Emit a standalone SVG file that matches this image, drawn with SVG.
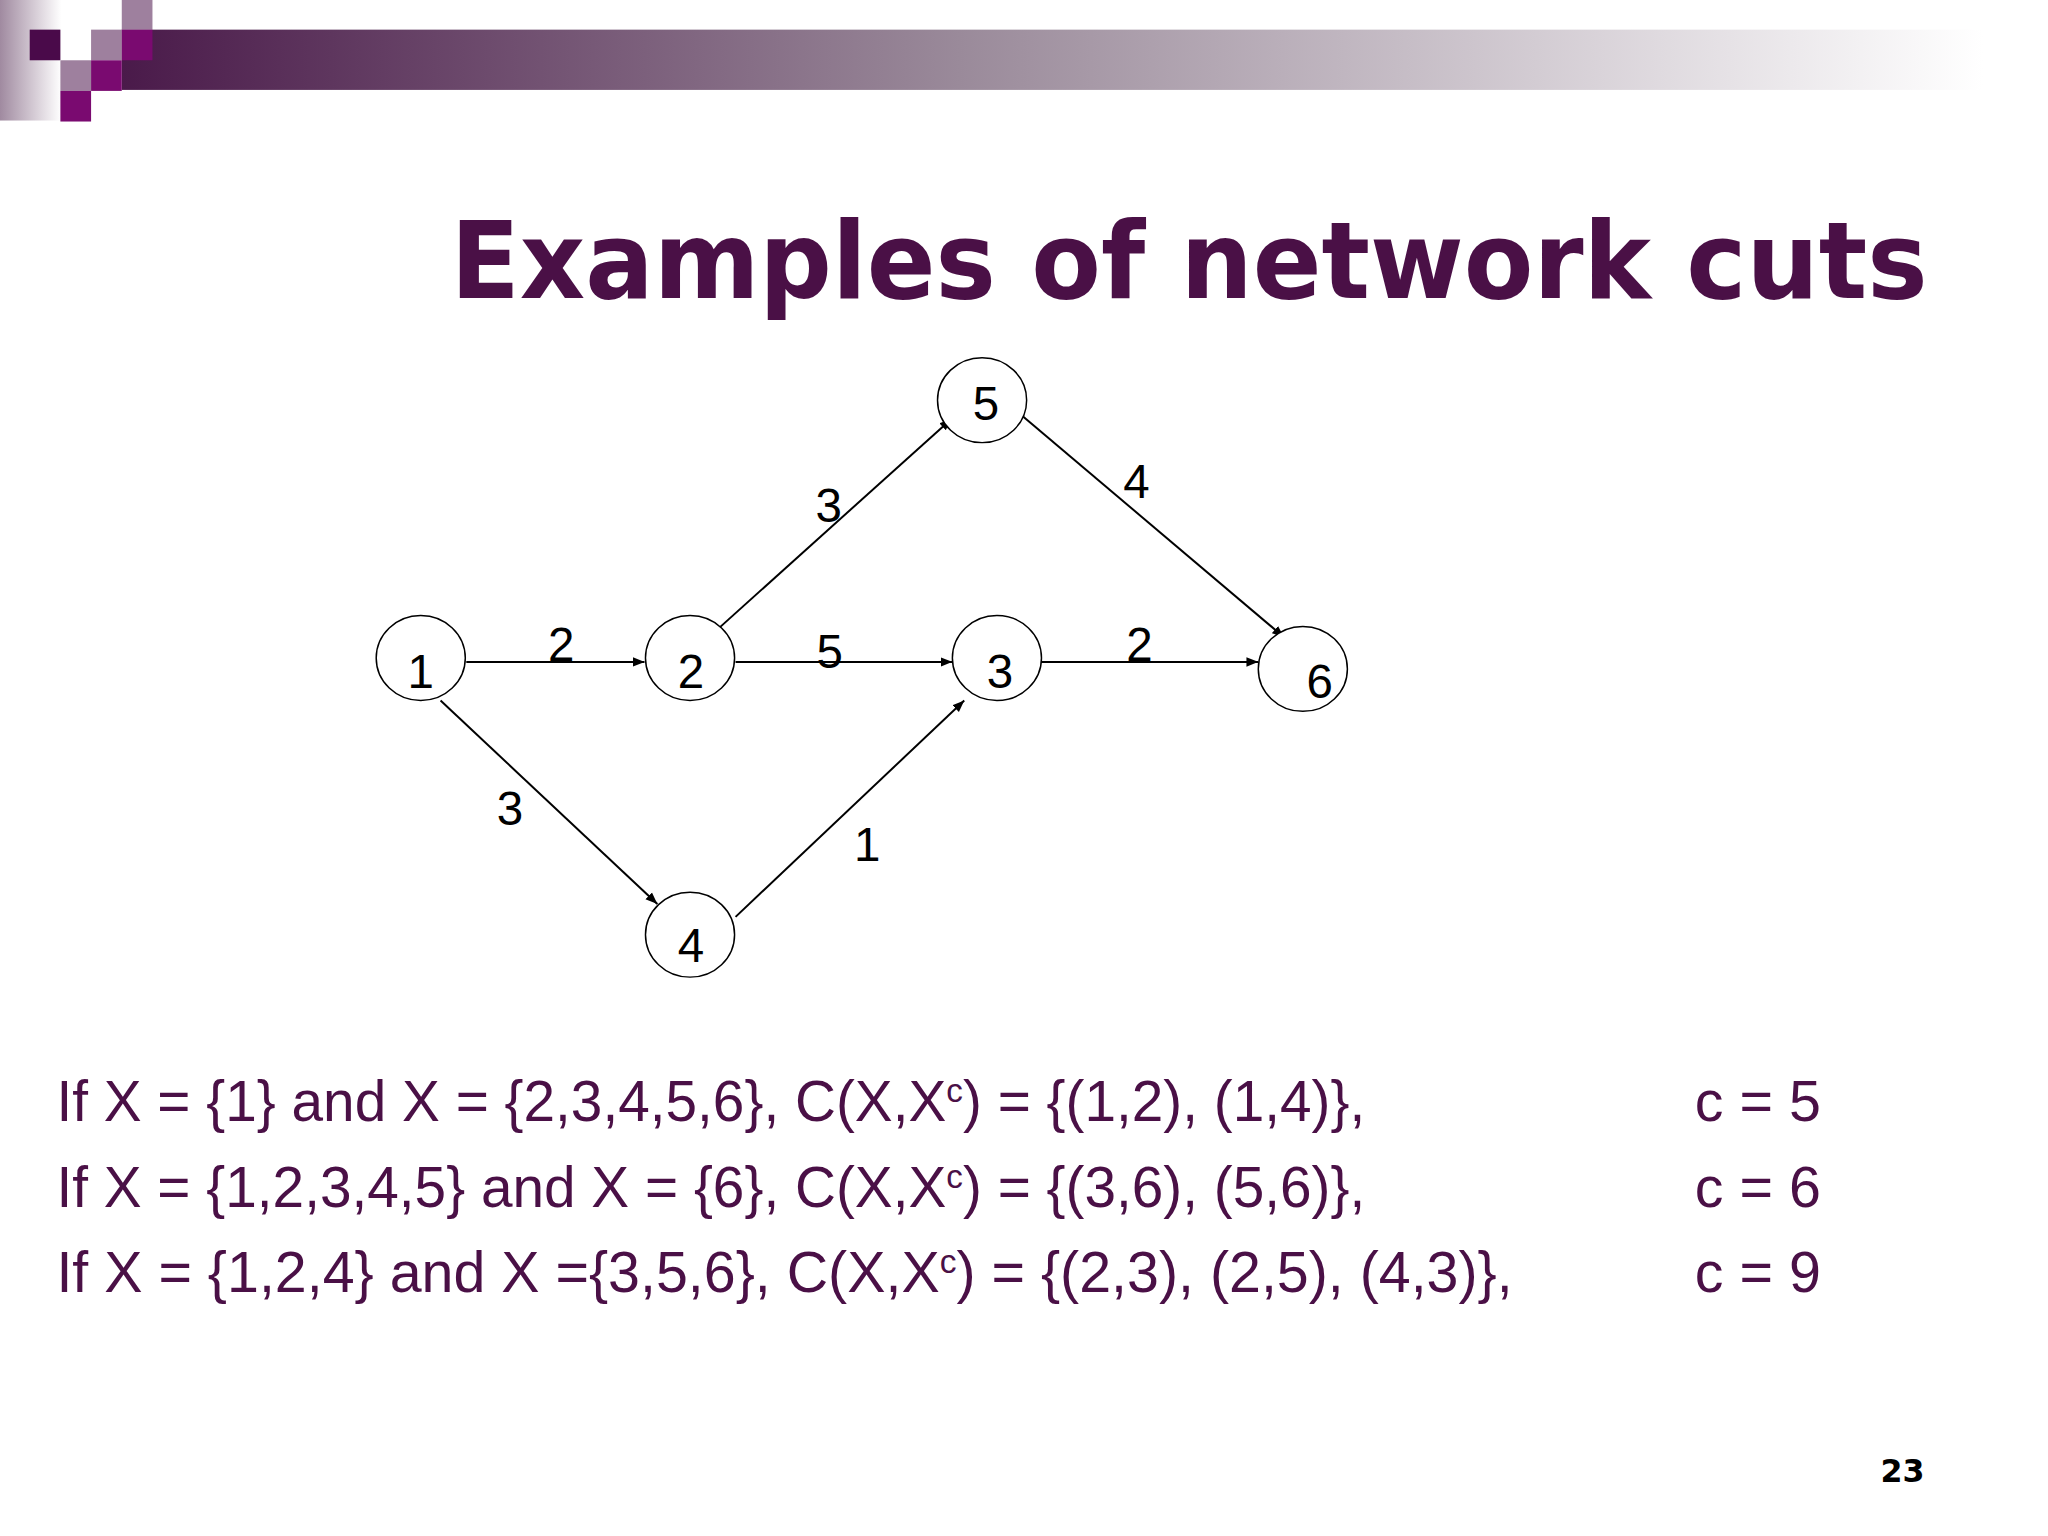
<svg xmlns="http://www.w3.org/2000/svg" width="2048" height="1536" viewBox="0 0 2048 1536">
<defs>
<linearGradient id="bar" x1="0" x2="1" y1="0" y2="0"><stop offset="0" stop-color="#4a1a4a"/><stop offset="0.45" stop-color="#9a8a9a"/><stop offset="1" stop-color="#ffffff"/></linearGradient>
<linearGradient id="strip" x1="0" x2="1" y1="0" y2="0"><stop offset="0" stop-color="#a08aa0"/><stop offset="1" stop-color="#ffffff"/></linearGradient>
<marker id="arr" viewBox="0 0 10 10" refX="10" refY="5" markerWidth="12" markerHeight="12" markerUnits="userSpaceOnUse" orient="auto"><path d="M0,1 L10,5 L0,9 z" fill="#000"/></marker>
</defs>
<style>
.n{fill:#fff;stroke:#000;stroke-width:1.5}
.t{font-family:"Liberation Sans",Arial,sans-serif;font-size:48px;fill:#000;text-anchor:middle}
.e{stroke:#000;stroke-width:2;fill:none;marker-end:url(#arr)}
.l{font-family:"Liberation Sans",Arial,sans-serif;font-size:58px;fill:#4a1046}
</style>
<rect width="2048" height="1536" fill="#fff"/>
<g transform="scale(0.99,0.988)">
<rect x="0" y="0" width="62" height="122" fill="url(#strip)"/>
<rect x="123" y="30" width="1880" height="61" fill="url(#bar)"/>
<rect x="30" y="30" width="31" height="31" fill="#4a0a4a"/>
<rect x="123" y="0" width="31" height="30" fill="#9e809e"/>
<rect x="92" y="30" width="31" height="31" fill="#9e809e"/>
<rect x="123" y="30" width="31" height="31" fill="#7a0a70"/>
<rect x="61" y="61" width="31" height="31" fill="#9e809e"/>
<rect x="92" y="61" width="31" height="31" fill="#7a0a70"/>
<rect x="61" y="92" width="31" height="31" fill="#7a0a70"/>
<text x="455" y="302" font-family="'DejaVu Sans',Verdana,sans-serif" font-weight="bold" font-size="108" fill="#4a1046" textLength="1492" lengthAdjust="spacingAndGlyphs">Examples of network cuts</text>
<g id="edges">
<line class="e" x1="471" y1="670" x2="651" y2="670"/>
<line class="e" x1="743" y1="670" x2="962" y2="670"/>
<line class="e" x1="1052" y1="670" x2="1271" y2="670"/>
<line class="e" x1="727" y1="635" x2="961" y2="424"/>
<line class="e" x1="1028" y1="417" x2="1297" y2="645"/>
<line class="e" x1="445" y1="709" x2="664" y2="915"/>
<line class="e" x1="743" y1="928" x2="974" y2="709"/>
<text class="t" x="567" y="669">2</text>
<text class="t" x="838" y="676">5</text>
<text class="t" x="1151" y="669">2</text>
<text class="t" x="837" y="528">3</text>
<text class="t" x="1148" y="504">4</text>
<text class="t" x="515" y="835">3</text>
<text class="t" x="876" y="871">1</text>
</g>
<g id="node1"><ellipse class="n" cx="425" cy="666" rx="45" ry="43"/><text class="t" x="425" y="696">1</text></g>
<g id="node2"><ellipse class="n" cx="697" cy="666" rx="45" ry="43"/><text class="t" x="698" y="696">2</text></g>
<g id="node3"><ellipse class="n" cx="1007" cy="666" rx="45" ry="43"/><text class="t" x="1010" y="696">3</text></g>
<g id="node4"><ellipse class="n" cx="697" cy="946" rx="45" ry="43"/><text class="t" x="698" y="974">4</text></g>
<g id="node5"><ellipse class="n" cx="992" cy="405" rx="45" ry="43"/><text class="t" x="996" y="425">5</text></g>
<g id="node6"><ellipse class="n" cx="1316" cy="677" rx="45" ry="43"/><text class="t" x="1333" y="706">6</text></g>
<text class="l" x="57" y="1135" textLength="1322" lengthAdjust="spacingAndGlyphs">If X = {1} and X = {2,3,4,5,6}, C(X,X<tspan font-size="34" dy="-20">c</tspan><tspan dy="20">) = {(1,2), (1,4)},</tspan></text>
<text class="l" x="57" y="1222" textLength="1322" lengthAdjust="spacingAndGlyphs">If X = {1,2,3,4,5} and X = {6}, C(X,X<tspan font-size="34" dy="-20">c</tspan><tspan dy="20">) = {(3,6), (5,6)},</tspan></text>
<text class="l" x="57" y="1308" textLength="1471" lengthAdjust="spacingAndGlyphs">If X = {1,2,4} and X ={3,5,6},  C(X,X<tspan font-size="34" dy="-20">c</tspan><tspan dy="20">) = {(2,3), (2,5), (4,3)},</tspan></text>
<text class="l" x="1712" y="1135">c = 5</text>
<text class="l" x="1712" y="1222">c = 6</text>
<text class="l" x="1712" y="1308">c = 9</text>
<text x="1944" y="1500" text-anchor="end" font-family="'DejaVu Sans',Verdana,sans-serif" font-weight="bold" font-size="32" fill="#000">23</text>
</g>
</svg>
